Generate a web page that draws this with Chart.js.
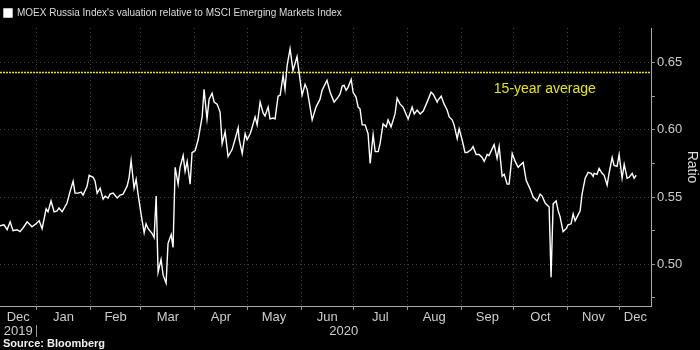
<!DOCTYPE html>
<html>
<head>
<meta charset="utf-8">
<script src="https://cdn.jsdelivr.net/npm/chart.js@4/dist/chart.umd.min.js"></script>
<style>
  html, body { margin: 0; padding: 0; background: #000; }
</style>
</head>
<body>
<canvas id="ratioChart" width="700" height="350"></canvas>
<script>
// day numbers counted from 2020-01-01 (negative = Dec 2019)
const days = [
  -20.9, -18.6, -16.8, -15.1, -13.4, -11.1, -9.4, -7.6, -5.3, -2.5, -0.2, 1.6, 3.3, 5.6, 6.7, 8.4, 10.2,
  11.9, 13.0, 14.8, 17.6, 19.4, 21.1, 22.2, 24.0, 25.7, 26.8, 29.1, 30.3, 32.6, 33.7, 34.9, 36.6, 38.3,
  39.5, 41.2, 42.3, 44.1, 46.4, 48.1, 49.8, 52.1, 53.2, 54.4, 56.1, 57.3, 58.4, 60.1, 61.9, 63.0, 64.2,
  66.5, 67.6, 68.8, 69.9, 71.6, 72.8, 74.5, 75.6, 77.4, 78.5, 79.7, 81.4, 82.5, 84.3, 85.4, 86.6, 88.3,
  89.4, 91.2, 92.9, 95.2, 96.3, 98.0, 99.2, 100.9, 102.1,
  103.8, 105.5, 106.7, 108.4, 110.1, 112.4, 114.2, 115.9, 116.4, 118.2, 119.9, 121.0, 122.8, 124.5,
  125.6, 126.8, 128.5, 130.2, 131.3, 133.1, 134.2, 135.9, 137.1, 138.8, 140.0, 141.7, 142.8, 144.0,
  145.7, 147.4, 149.7, 152.6, 154.3, 155.5, 158.4, 160.6, 162.9,
  164.1, 166.9, 168.7, 171.0, 173.3, 174.4, 175.6, 176.7, 177.9, 179.0, 180.8, 181.9, 183.6, 184.8,
  185.9, 187.1, 188.8, 190.5, 191.7, 193.4, 194.6, 196.3, 197.4, 199.1, 200.9, 202.0, 203.7, 206.0,
  207.2, 208.9, 210.6, 213.5, 215.8, 217.0, 218.7, 220.4,
  222.2, 224.4, 226.7, 227.9, 230.2, 230.7, 232.5, 234.2, 235.9, 237.1, 238.8, 239.9, 241.7, 242.8,
  244.5, 246.2, 247.4, 249.7, 250.8, 252.6, 254.3, 256.0, 257.2, 258.9, 260.0, 261.8, 262.9, 264.6,
  265.8, 267.5, 268.7, 270.4, 271.5, 273.3, 275.0, 276.7, 278.4, 279.6, 281.3, 283.6,
  285.3, 287.6, 289.3, 290.5, 292.2, 293.9, 294.5, 295.6, 296.8, 298.5, 299.7, 300.8, 302.5, 304.3,
  305.4, 307.1, 308.3, 309.4, 311.1, 312.3, 313.4, 315.2, 316.9, 318.6, 319.8, 320.3, 322.0, 323.2,
  324.9, 326.1, 327.8, 328.9, 330.7, 331.8, 333.5, 334.7, 336.4, 337.6, 339.3, 340.5, 342.2, 343.3, 344.5
];

// MOEX Russia / MSCI EM ratio
const ratio = [
  0.5287, 0.5294, 0.5257, 0.5316, 0.5250, 0.5257, 0.5243, 0.5272, 0.5316, 0.5279, 0.5301, 0.5324, 0.5265,
  0.5412, 0.5390, 0.5471, 0.5390, 0.5397, 0.5419, 0.5390, 0.5456, 0.5544, 0.5618, 0.5529, 0.5529, 0.5537,
  0.5515, 0.5581, 0.5662, 0.5647, 0.5618, 0.5529, 0.5566, 0.5485,
  0.5507, 0.5493, 0.5522, 0.5529, 0.5493, 0.5515, 0.5522, 0.5581, 0.5640, 0.5772, 0.5566, 0.5632, 0.5522,
  0.5375, 0.5235, 0.5301, 0.5265, 0.5228, 0.5199, 0.5507, 0.4941, 0.5037, 0.4919, 0.4860, 0.5154, 0.5221,
  0.5125, 0.5721, 0.5596, 0.5721, 0.5809, 0.5691, 0.5765, 0.5596, 0.5831, 0.5846, 0.5926, 0.6096, 0.6301,
  0.6081, 0.6228, 0.6272, 0.6206,
  0.6191, 0.6132, 0.5897, 0.5985, 0.5801, 0.5853, 0.5934, 0.6015, 0.5934, 0.5824, 0.5971, 0.5926, 0.5971,
  0.6044, 0.6096, 0.6037, 0.6206, 0.6125, 0.6103, 0.6169, 0.6081, 0.6088, 0.6081, 0.6250, 0.6257, 0.6404,
  0.6301, 0.6478, 0.6603, 0.6441, 0.6544, 0.6257, 0.6338, 0.6301, 0.6074, 0.6169, 0.6228,
  0.6294, 0.6368, 0.6279, 0.6206, 0.6243, 0.6265, 0.6324, 0.6331, 0.6294, 0.6316, 0.6375, 0.6279, 0.6243,
  0.6169, 0.6154, 0.6037, 0.6037, 0.5971, 0.5750, 0.5963, 0.5838, 0.5838, 0.5897, 0.6044, 0.6022, 0.6074,
  0.6022, 0.6118, 0.6235, 0.6191, 0.6169, 0.6081, 0.6169, 0.6118, 0.6147, 0.6118,
  0.6140, 0.6206, 0.6279, 0.6265, 0.6206, 0.6221, 0.6250, 0.6191, 0.6147, 0.6096, 0.6074, 0.6037, 0.5934,
  0.6007, 0.5926, 0.5831, 0.5831, 0.5853, 0.5875, 0.5816, 0.5816, 0.5794, 0.5765, 0.5816, 0.5809, 0.5860,
  0.5890, 0.5787, 0.5875, 0.5654, 0.5669, 0.5596, 0.5596, 0.5824, 0.5765, 0.5721, 0.5743, 0.5757, 0.5625, 0.5559,
  0.5500, 0.5471, 0.5522, 0.5507, 0.5456, 0.5434, 0.5426, 0.4904, 0.5449, 0.5471, 0.5397, 0.5353, 0.5243,
  0.5265, 0.5294, 0.5301, 0.5375, 0.5324, 0.5368, 0.5397, 0.5522, 0.5640, 0.5684, 0.5676, 0.5654, 0.5676,
  0.5669, 0.5713, 0.5676, 0.5662, 0.5588, 0.5676, 0.5794, 0.5735, 0.5728, 0.5816, 0.5640, 0.5743, 0.5640,
  0.5647, 0.5676, 0.5640, 0.5662
];

const avg15y = 0.6426;

const monthStarts = [-31, 0, 31, 60, 91, 121, 152, 182, 213, 244, 274, 305, 335, 366];
const monthNames = ["Dec", "Jan", "Feb", "Mar", "Apr", "May", "Jun", "Jul", "Aug", "Sep", "Oct", "Nov", "Dec"];
const yearStarts = [-365, 0, 366];
const yearNames = ["2019", "2020"];
const ratioTicks = [0.475, 0.5, 0.525, 0.55, 0.575, 0.6, 0.625, 0.65];

const xMin = -20.9;
const xMax = 353;
const FONT = '"Liberation Sans", Arial, sans-serif';
Chart.defaults.font.family = FONT;

const isMajor = (v) => Math.abs(v * 100 % 5) < 0.01 || Math.abs(v * 100 % 5 - 5) < 0.01;

// centre of each month / year inside the visible range
function centres(starts) {
  const out = [];
  for (let i = 0; i < starts.length - 1; i++) {
    const a = Math.max(starts[i], xMin), b = Math.min(starts[i + 1], xMax);
    out.push((a + b) / 2);
  }
  return out;
}

const extras = {
  id: "extras",
  afterDraw(chart) {
    const { ctx, scales } = chart;
    const x = scales.x, y = scales.y;
    ctx.save();
    ctx.fillStyle = "#e6e600";
    ctx.font = "14px " + FONT;
    ctx.textAlign = "center";
    ctx.textBaseline = "middle";
    ctx.fillText("15-year average", x.getPixelForValue(292), y.getPixelForValue(avg15y - 0.0125));

    // separator between the years
    const sx = Math.round(x.getPixelForValue(0)) + 0.5;
    ctx.strokeStyle = "#999";
    ctx.lineWidth = 1;
    ctx.beginPath();
    ctx.moveTo(sx, scales.xy.top + 1);
    ctx.lineTo(sx, scales.xy.bottom - 1);
    ctx.stroke();

    ctx.fillStyle = "#eee";
    ctx.font = "bold 11px " + FONT;
    ctx.textAlign = "left";
    ctx.fillText("Source: Bloomberg", 3, 344);
    ctx.restore();
  }
};

new Chart(document.getElementById("ratioChart"), {
  type: "line",
  data: {
    datasets: [
      {
        label: "MOEX Russia Index's valuation relative to MSCI Emerging Markets Index",
        data: days.map((d, i) => ({ x: d, y: ratio[i] })),
        borderColor: "#fff",
        backgroundColor: "#fff",
        borderWidth: 1.4,
        pointRadius: 0,
        tension: 0,
      },
      {
        label: "15-year average",
        data: [{ x: xMin, y: avg15y }, { x: xMax, y: avg15y }],
        borderColor: "#e6e600",
        borderWidth: 1.5,
        borderDash: [2, 1],
        pointRadius: 0,
      },
    ],
  },
  options: {
    responsive: false,
    animation: false,
    layout: { padding: { left: 0, right: 0, top: 4, bottom: 12 } },
    plugins: {
      tooltip: { enabled: false },
      legend: {
        display: true,
        align: "start",
        labels: {
          filter: (item) => item.datasetIndex === 0,
          color: "#ddd",
          boxWidth: 8,
          boxHeight: 8,
          padding: 4,
          font: { size: 10 },
        },
      },
    },
    scales: {
      x: {
        type: "linear",
        position: "bottom",
        min: xMin,
        max: xMax,
        afterBuildTicks: (s) => { s.ticks = monthStarts.filter((v) => v > xMin && v < xMax).map((v) => ({ value: v })); },
        afterFit: (s) => { s.height = 4; },
        ticks: { display: true, callback: () => "", padding: 0 },
        grid: { color: "#444", tickColor: "#999", tickLength: 4 },
        border: { color: "#aaa", dash: [1, 3] },
      },
      xl: {
        type: "linear",
        position: "bottom",
        min: xMin,
        max: xMax,
        afterBuildTicks: (s) => { s.ticks = centres(monthStarts).map((v) => ({ value: v })); },
        afterFit: (s) => { s.height = 14; },
        ticks: {
          autoSkip: false,
          maxRotation: 0,
          padding: 0,
          color: "#ccc",
          font: { size: 13 },
          callback: (v, i) => monthNames[i],
        },
        grid: { display: false, drawTicks: false },
        border: { display: false },
      },
      xy: {
        type: "linear",
        position: "bottom",
        min: xMin,
        max: xMax,
        afterBuildTicks: (s) => { s.ticks = centres(yearStarts).map((v) => ({ value: v })); },
        afterFit: (s) => { s.height = 14; },
        ticks: {
          autoSkip: false,
          maxRotation: 0,
          padding: 0,
          color: "#ccc",
          font: { size: 13 },
          callback: (v, i) => yearNames[i],
        },
        grid: { display: false, drawTicks: false },
        border: { display: false },
      },
      y: {
        type: "linear",
        position: "right",
        min: 0.469,
        max: 0.6757,
        afterBuildTicks: (s) => { s.ticks = ratioTicks.map((v) => ({ value: v })); },
        afterFit: (s) => { s.width = 49; },
        ticks: {
          autoSkip: false,
          padding: 2,
          color: "#ccc",
          font: { size: 13 },
          callback: (v) => (isMajor(v) ? v.toFixed(2) : ""),
        },
        grid: {
          color: (c) => (c.tick && isMajor(c.tick.value) ? "#444" : "transparent"),
          tickColor: "#999",
          tickLength: 4,
        },
        border: { color: "#aaa", dash: [1, 3] },
        title: { display: true, text: "Ratio", color: "#ddd", font: { size: 14 }, padding: 0 },
      },
    },
  },
  plugins: [extras],
});
</script>
</body>
</html>
